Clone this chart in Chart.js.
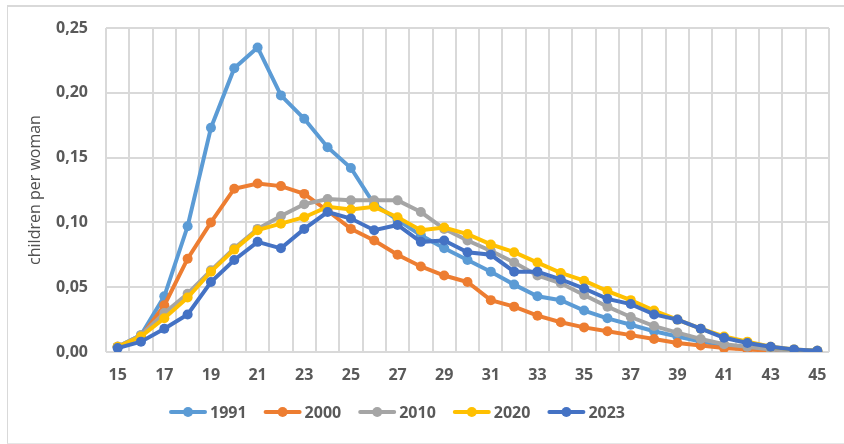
<!DOCTYPE html>
<html>
<head>
<meta charset="utf-8">
<script src="https://cdn.jsdelivr.net/npm/chart.js@4.4.1/dist/chart.umd.min.js"></script>
<style>
  html, body { margin: 0; padding: 0; background: #fff; overflow: hidden; }
  #wrap { position: relative; width: 844px; height: 444px; }
  #frame { position: absolute; left: 7px; top: 5px; width: 860px; height: 436px;
           border-left: 1px solid #d9d9d9; border-top: 2px solid #d9d9d9; border-bottom: 1px solid #e6e6e6; }
  canvas { position: absolute; left: 0; top: 0; }
</style>
</head>
<body>
<div id="wrap">
  <div id="frame"></div>
  <canvas id="chart" width="844" height="444"></canvas>
</div>
<script>
// --- Data ---
const ages = [];
for (let a = 15; a <= 45; a++) ages.push(String(a));

const years = ['1991', '2000', '2010', '2020', '2023'];
const colors = ['#5b9bd5', '#ed7d31', '#a5a5a5', '#ffc000', '#4472c4'];

const v1991 = [0.004, 0.013, 0.043, 0.097, 0.173, 0.219, 0.235, 0.198, 0.180, 0.158,
               0.142, 0.114, 0.102, 0.090, 0.080, 0.071, 0.062, 0.052, 0.043, 0.040,
               0.032, 0.026, 0.021, 0.016, 0.012, 0.008, 0.005, 0.003, 0.002, 0.001, 0.001];
const v2000 = [0.004, 0.012, 0.036, 0.072, 0.100, 0.126, 0.130, 0.128, 0.122, 0.109,
               0.095, 0.086, 0.075, 0.066, 0.059, 0.054, 0.040, 0.035, 0.028, 0.023,
               0.019, 0.016, 0.013, 0.010, 0.007, 0.005, 0.003, 0.002, 0.001, 0.001, 0.000];
const v2010 = [0.004, 0.013, 0.030, 0.045, 0.063, 0.080, 0.095, 0.105, 0.114, 0.118,
               0.117, 0.117, 0.117, 0.108, 0.095, 0.086, 0.078, 0.069, 0.059, 0.053,
               0.044, 0.035, 0.027, 0.020, 0.015, 0.010, 0.006, 0.004, 0.002, 0.001, 0.001];
const v2020 = [0.004, 0.012, 0.026, 0.042, 0.062, 0.079, 0.094, 0.099, 0.104, 0.112,
               0.110, 0.112, 0.104, 0.094, 0.096, 0.091, 0.083, 0.077, 0.069, 0.061,
               0.055, 0.047, 0.040, 0.032, 0.025, 0.018, 0.012, 0.008, 0.004, 0.002, 0.001];
const v2023 = [0.003, 0.008, 0.018, 0.029, 0.054, 0.071, 0.085, 0.080, 0.095, 0.108,
               0.103, 0.094, 0.098, 0.085, 0.086, 0.077, 0.075, 0.062, 0.062, 0.056,
               0.049, 0.041, 0.037, 0.029, 0.025, 0.018, 0.011, 0.007, 0.004, 0.002, 0.001];
const series = [v1991, v2000, v2010, v2020, v2023];

const yTicks = [0, 0.05, 0.10, 0.15, 0.20, 0.25];

const textColor = '#595959';
const gridColor = '#d9d9d9';
const fontFamily = '"Open Sans", "DejaVu Sans", sans-serif';

// --- Legend drawn as line + marker like the original ---
const lineLegend = {
    id: 'lineLegend',
    afterDraw(chart) {
        const ctx = chart.ctx;
        ctx.save();
        ctx.font = 'bold 16px ' + fontFamily;
        const lineLen = 38, gapText = 3, gapItem = 17;
        const widths = years.map(y => ctx.measureText(y).width);
        let total = 0;
        widths.forEach((w, i) => { total += lineLen + gapText + w + (i < years.length - 1 ? gapItem : 0); });
        let x = 397 - total / 2;
        const y = 412;
        years.forEach((yr, i) => {
            ctx.strokeStyle = colors[i];
            ctx.fillStyle = colors[i];
            ctx.lineWidth = 4;
            ctx.lineCap = 'round';
            ctx.beginPath();
            ctx.moveTo(x + 2, y);
            ctx.lineTo(x + lineLen - 2, y);
            ctx.stroke();
            ctx.beginPath();
            ctx.arc(x + lineLen / 2, y, 5, 0, Math.PI * 2);
            ctx.fill();
            ctx.fillStyle = textColor;
            ctx.textBaseline = 'middle';
            ctx.textAlign = 'left';
            ctx.fillText(yr, x + lineLen + gapText, y + 1);
            x += lineLen + gapText + widths[i] + gapItem;
        });
        ctx.restore();
    }
};

const ctx = document.getElementById('chart').getContext('2d');
new Chart(ctx, {
    type: 'line',
    data: {
        labels: ages,
        datasets: years.map((yr, i) => ({
            label: yr,
            data: series[i],
            borderColor: colors[i],
            backgroundColor: colors[i],
            borderWidth: 4,
            pointRadius: 5,
            pointBorderWidth: 0,
            pointBackgroundColor: colors[i],
            tension: 0,
            order: years.length - i
        }))
    },
    options: {
        responsive: false,
        animation: false,
        layout: { padding: { top: 28, right: 15, left: 0, bottom: 0 } },
        plugins: {
            legend: { display: false },
            tooltip: { enabled: false }
        },
        scales: {
            x: {
                offset: true,
                grid: { offset: true, color: gridColor, lineWidth: 2, drawTicks: false },
                border: { display: false },
                ticks: {
                    autoSkip: false,
                    maxRotation: 0,
                    padding: 14,
                    color: textColor,
                    font: { family: fontFamily, size: 16, weight: 'bold' },
                    callback: (v, i) => (i % 2 === 0 ? ages[i] : '')
                },
                afterFit: s => { s.height = 92; }
            },
            y: {
                min: 0,
                max: 0.25,
                afterBuildTicks: s => { s.ticks = yTicks.map(v => ({ value: v })); },
                grid: { color: gridColor, lineWidth: 2, drawTicks: false },
                border: { display: false },
                ticks: {
                    padding: 18,
                    color: textColor,
                    font: { family: fontFamily, size: 16, weight: 'bold' },
                    callback: v => v.toFixed(2).replace('.', ',')
                },
                title: {
                    display: true,
                    text: 'children per woman',
                    color: '#505050',
                    font: { family: fontFamily, size: 16 },
                    padding: { top: 26, bottom: 0 }
                },
                afterFit: s => { s.width = 106; }
            }
        }
    },
    plugins: [lineLegend]
});
</script>
</body>
</html>
